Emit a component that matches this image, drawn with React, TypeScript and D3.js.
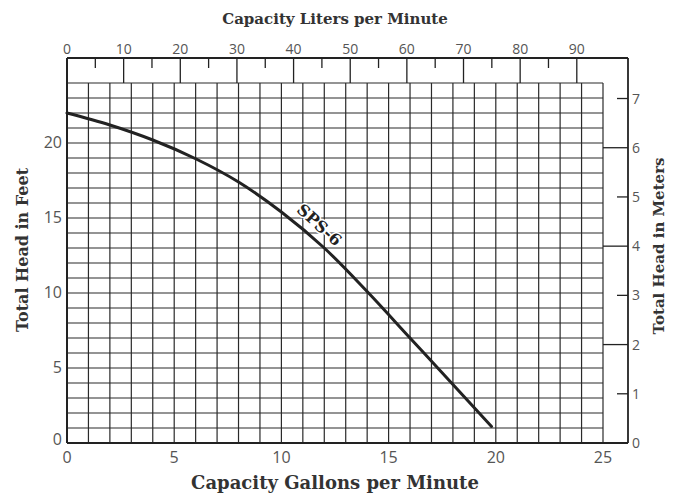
import { scaleLinear, line, curveCatmullRom, range } from 'd3';

// pump curve SPS-6
const gpm = [0, 2, 4, 6, 8, 10, 12, 14, 16, 18, 19.8];
const headFt = [22, 21.2, 20.2, 18.95, 17.4, 15.4, 13.0, 10.1, 7.0, 3.9, 1.1];

const gpmTicks = [0, 5, 10, 15, 20, 25];
const ftTicks = [0, 5, 10, 15, 20];
const lpmTicks = [0, 10, 20, 30, 40, 50, 60, 70, 80, 90];
const meterTicks = [0, 1, 2, 3, 4, 5, 6, 7];

const LPM_PER_GPM = 3.785;
const M_PER_FT = 0.3048;

const tickFont = '"Open Sans", "DejaVu Sans", sans-serif';
const titleFont = '"DejaVu Serif", serif';

export default function App() {
  const x = scaleLinear().domain([0, 25]).range([67, 603]);
  const y = scaleLinear().domain([0, 24]).range([443, 83]);
  const xL = scaleLinear().domain([0, 25 * LPM_PER_GPM]).range([67, 603]);
  const yM = scaleLinear().domain([0, 24 * M_PER_FT]).range([443, 83]);

  const frameTop = 58;
  const frameRight = 628;

  const curve = line<number>()
    .x((d) => x(d))
    .y((d, i) => y(headFt[i]))
    .curve(curveCatmullRom);

  const gridStroke = '#2a2a2a';

  return (
    <svg
      width={677}
      height={493}
      style={{ position: 'absolute', left: 0, top: 0, background: '#fff' }}
    >
      <rect width={677} height={493} fill="#fff" />

      {/* grid */}
      {range(0, 26).map((g) => (
        <line key={'v' + g} x1={x(g)} x2={x(g)} y1={y(0)} y2={y(24)} stroke={gridStroke} strokeWidth={1.2} />
      ))}
      {range(0, 25).map((f) => (
        <line key={'h' + f} x1={x(0)} x2={x(25)} y1={y(f)} y2={y(f)} stroke={gridStroke} strokeWidth={1.2} />
      ))}

      {/* frame */}
      <line x1={x(0)} x2={frameRight} y1={frameTop} y2={frameTop} stroke="#222" strokeWidth={2} />
      <line x1={x(0)} x2={x(0)} y1={frameTop} y2={y(0)} stroke="#222" strokeWidth={2} />
      <line x1={frameRight} x2={frameRight} y1={frameTop} y2={y(0)} stroke="#222" strokeWidth={1.8} />
      <line x1={x(0)} x2={frameRight} y1={y(0)} y2={y(0)} stroke="#222" strokeWidth={2} />

      {/* top liters axis */}
      {range(5, 91, 5).map((l) => (
        <line
          key={'lt' + l}
          x1={xL(l)}
          x2={xL(l)}
          y1={frameTop}
          y2={l % 10 === 0 ? y(24) : frameTop + 10}
          stroke="#222"
          strokeWidth={1.3}
        />
      ))}
      {lpmTicks.map((l) => (
        <text key={'ll' + l} x={xL(l)} y={frameTop - 4} textAnchor="middle" fontFamily={tickFont} fontSize={14} fill="#555">
          {l}
        </text>
      ))}
      <text x={335} y={24} textAnchor="middle" fontFamily={titleFont} fontWeight="bold" fontSize={15} fill="#333">
        Capacity Liters per Minute
      </text>

      {/* right meters axis */}
      {meterTicks.filter((m) => m > 0).map((m) => (
        <line
          key={'mt' + m}
          x1={m % 2 === 0 ? x(25) : frameRight - 11}
          x2={frameRight}
          y1={yM(m)}
          y2={yM(m)}
          stroke="#222"
          strokeWidth={1.3}
        />
      ))}
      {meterTicks.map((m) => (
        <text key={'ml' + m} x={frameRight + 4} y={yM(m) + 5} fontFamily={tickFont} fontSize={14} fill="#555">
          {m}
        </text>
      ))}
      <text
        transform={`translate(664, 246) rotate(-90)`}
        textAnchor="middle"
        fontFamily={titleFont}
        fontWeight="bold"
        fontSize={15}
        fill="#333"
      >
        Total Head in Meters
      </text>

      {/* left feet axis */}
      {ftTicks.map((f) => (
        <text key={'fl' + f} x={x(0) - 5} y={y(f) + (f === 0 ? 2 : 5)} textAnchor="end" fontFamily={tickFont} fontSize={16} fill="#555">
          {f}
        </text>
      ))}
      <text
        transform={`translate(28, 250) rotate(-90)`}
        textAnchor="middle"
        fontFamily={titleFont}
        fontWeight="bold"
        fontSize={16}
        fill="#333"
      >
        Total Head in Feet
      </text>

      {/* bottom gallons axis */}
      {gpmTicks.map((g) => (
        <text key={'gl' + g} x={x(g)} y={y(0) + 20} textAnchor="middle" fontFamily={tickFont} fontSize={16} fill="#555">
          {g}
        </text>
      ))}
      <text x={335} y={489} textAnchor="middle" fontFamily={titleFont} fontWeight="bold" fontSize={18} fill="#333">
        Capacity Gallons per Minute
      </text>

      {/* pump curve */}
      <path d={curve(gpm) ?? ''} fill="none" stroke="#222" strokeWidth={3} strokeLinecap="round" />
      <text
        transform={`translate(${x(11.6)}, ${y(14.6) + 5}) rotate(42)`}
        textAnchor="middle"
        fontFamily={titleFont}
        fontWeight="bold"
        fontSize={16}
        fill="#222"
        stroke="#fff"
        strokeWidth={3}
        paintOrder="stroke"
      >
        SPS-6
      </text>
    </svg>
  );
}
